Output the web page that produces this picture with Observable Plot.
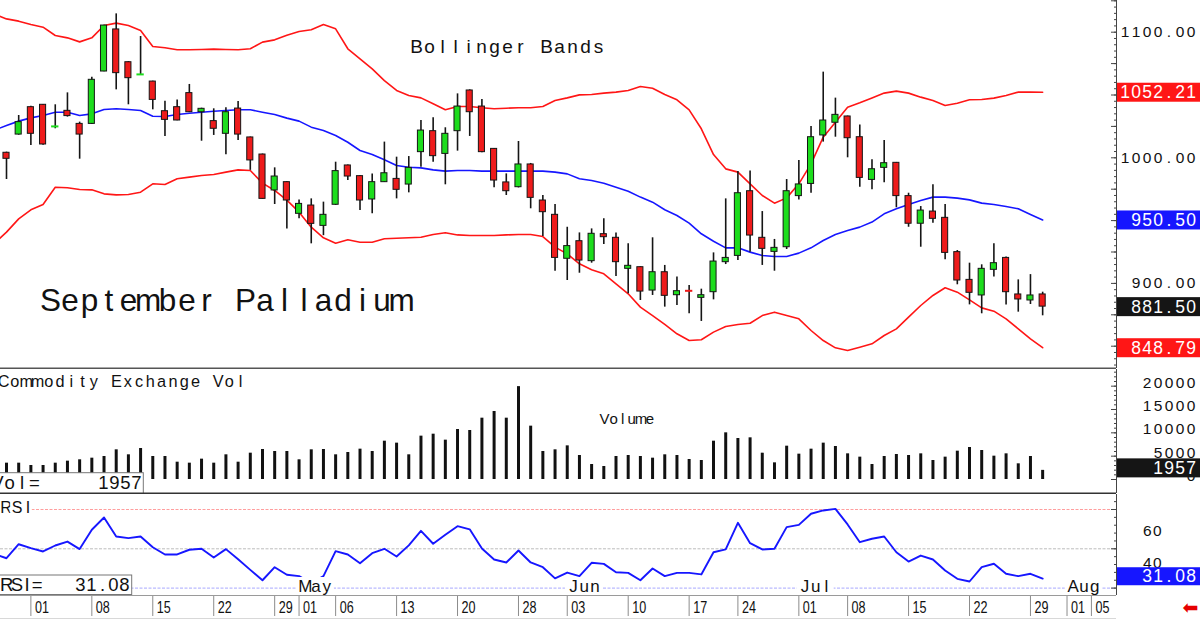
<!DOCTYPE html>
<html>
<head>
<meta charset="utf-8">
<script src="https://cdn.jsdelivr.net/npm/d3@7"></script>
<script src="https://cdn.jsdelivr.net/npm/@observablehq/plot@0.6"></script>
<style>
  html, body { margin: 0; padding: 0; background: #fff; }
  #chart { width: 1200px; height: 620px; overflow: hidden; background: #fff; }
  #chart svg { display: block; }
</style>
</head>
<body>
<div id="chart"></div>
<script>
// ---------------- data ----------------
// daily bars, Mar 27 .. Jul 30 (trading-day index 0..85)
const opens = [1004.0,1018.5,1040.3,1042.2,1024.7,1037.4,1027.0,1027.0,1068.7,1102.2,
  1076.1,1066.1,1060.7,1037.1,1040.3,1051.5,1036.3,1029.2,1019.1,1039.2,
  1016.2,1002.6,974.0,980.6,955.4,962.0,945.8,962.6,993.9,985.4,
  966.8,980.6,983.2,978.7,1004.5,1021.2,1003.1,1021.2,1053.6,1040.8,
  1007.1,980.4,976.6,994.7,966.0,954.6,919.6,933.6,917.7,939.2,
  936.3,911.6,912.9,894.3,908.9,890.6,894.5,888.5,893.0,916.9,
  921.9,973.4,936.3,925.1,928.8,969.5,979.2,1017.8,1027.9,1032.9,
  1016.4,982.4,992.0,996.0,969.5,947.5,957.2,952.2,924.9,902.8,
  890.4,910.8,920.3,891.2,886.4,891.2];
const highs = [1004.5,1033.7,1041.0,1042.5,1042.2,1051.7,1028.4,1064.2,1105.5,1114.6,
  1076.5,1096.6,1061.0,1045.1,1046.1,1058.4,1039.5,1039.0,1039.8,1044.8,
  1016.5,1003.0,992.0,981.0,966.5,967.3,964.7,996.5,994.2,985.7,
  987.2,1012.5,1000.5,1001.0,1029.7,1031.8,1023.9,1050.9,1054.1,1046.4,
  1007.5,987.2,1013.0,995.5,970.0,962.8,944.7,940.2,943.4,951.4,
  940.2,931.5,913.2,936.3,914.3,905.0,898.3,895.4,924.3,967.3,
  989.1,989.4,957.2,935.0,982.7,997.8,1024.9,1068.2,1047.5,1033.2,
  1026.2,998.4,1013.8,996.3,971.8,961.2,978.5,962.8,926.2,916.1,
  914.8,931.5,921.0,902.8,907.0,893.0];
const lows = [982.7,1018.0,1009.8,1010.0,1023.1,1032.4,998.9,1026.5,1068.5,1054.1,
  1042.2,1065.9,1038.2,1017.0,1029.5,1036.0,1013.2,1017.8,1002.4,1013.8,
  990.0,967.0,962.8,943.4,951.4,931.5,938.0,962.0,981.9,958.0,
  955.4,980.4,967.3,972.1,992.5,996.5,978.5,1005.3,1017.0,1004.0,
  976.1,970.0,976.0,959.4,937.3,909.7,902.3,908.1,916.1,930.9,
  905.5,891.7,886.4,890.4,881.1,882.4,875.8,869.7,886.9,915.0,
  918.2,924.9,914.3,909.7,927.0,966.5,971.8,1012.5,1016.4,1000.0,
  976.6,974.5,980.1,960.2,944.7,928.8,947.9,918.8,898.9,882.9,
  875.8,905.0,882.9,877.1,883.2,874.2];
const closes = [999.2,1028.4,1019.1,1010.6,1025.0,1033.2,1018.5,1062.1,1105.3,1067.4,
  1063.4,1066.4,1046.1,1030.2,1029.7,1036.3,1039.0,1023.1,1036.3,1018.5,
  997.9,967.3,985.1,966.0,963.3,947.4,954.6,989.4,985.1,966.0,
  980.6,987.7,974.5,992.0,1021.7,1001.3,1019.1,1040.8,1036.3,1004.5,
  981.9,973.4,994.7,968.1,956.7,920.3,929.7,918.2,939.5,936.8,
  916.9,914.0,893.5,908.9,890.1,893.8,894.1,890.6,917.4,920.3,
  971.8,938.1,927.5,928.3,973.4,978.8,1016.4,1029.7,1034.2,1015.6,
  984.0,990.9,995.7,969.5,947.5,958.0,951.4,924.3,902.3,892.5,
  911.6,916.1,893.0,887.2,890.4,881.5];
// Bollinger bands, starting one bar before the first candle (index -1 .. 85)
const upperBand = [1114.4,
  1110.6,1108.8,1106.1,1104.0,1097.4,1095.5,1092.3,1095.5,1105.3,1107.2,
  1105.3,1101.4,1088.6,1087.6,1086.0,1086.0,1086.2,1086.5,1086.2,1086.0,
  1086.8,1092.1,1093.9,1097.6,1100.6,1101.9,1106.1,1102.7,1086.8,1078.8,
  1070.8,1061.5,1053.6,1049.6,1047.7,1043.0,1038.2,1040.8,1040.8,1039.8,
  1039.0,1039.5,1039.8,1039.8,1040.8,1045.6,1047.7,1050.1,1050.4,1051.5,
  1052.3,1053.6,1056.8,1055.4,1050.4,1046.2,1038.2,1023.1,1002.6,991.2,
  988.6,979.3,970.0,963.9,968.1,979.3,995.2,1016.4,1028.4,1040.3,
  1043.8,1047.7,1051.5,1053.1,1051.5,1048.3,1045.6,1041.6,1043.5,1046.2,
  1046.4,1047.5,1049.6,1052.3,1052.3,1052.21];
const middleBand = [1022.0,
  1025.7,1029.2,1031.8,1033.7,1036.3,1036.3,1033.7,1035.0,1038.5,1039.0,
  1038.5,1037.7,1033.1,1032.9,1034.5,1035.5,1036.3,1037.1,1037.7,1038.2,
  1038.2,1036.3,1034.5,1031.6,1029.2,1024.4,1021.7,1017.8,1012.4,1005.8,
  1002.6,998.4,993.9,992.5,992.0,990.4,989.4,989.9,989.9,989.4,
  989.4,989.4,989.4,989.4,989.4,988.6,987.2,983.3,981.9,979.8,
  976.6,973.4,968.7,964.7,958.6,954.1,948.0,939.5,933.6,928.3,
  928.3,924.9,922.2,921.4,921.4,924.1,928.3,934.2,938.9,942.1,
  944.8,948.8,955.4,959.4,962.8,966.0,968.7,968.7,967.9,966.5,
  963.9,962.8,961.2,959.4,954.9,950.50];
const lowerBand = [931.8,
  940.8,951.4,958.6,962.8,976.6,976.1,974.8,974.5,971.3,970.5,
  970.8,972.6,979.3,978.8,983.3,984.6,985.9,986.7,988.6,990.4,
  989.9,979.8,974.0,966.3,956.7,944.8,936.3,932.0,934.7,932.8,
  932.8,935.5,935.9,936.3,936.8,938.9,940.3,938.6,938.1,938.1,
  938.1,938.6,938.9,938.9,937.3,928.9,923.5,915.6,910.8,907.6,
  899.7,891.7,881.1,874.4,867.3,859.9,854.5,855.1,861.2,865.7,
  867.3,868.3,874.4,877.1,874.4,871.8,862.5,854.5,848.7,846.6,
  849.2,851.9,858.5,863.8,873.1,882.4,890.4,896.5,893.0,886.9,
  880.5,877.9,871.8,863.8,855.9,848.79];
const volumes = [3500,3500,3000,3000,3500,3930,4220,4570,4930,6360,
  5290,6640,4930,4930,3710,3500,4360,3500,5290,3710,
  5640,6430,6000,6000,4220,6360,6430,5290,5790,6500,
  6000,8210,7790,5290,9290,9710,8430,10710,10500,13140,
  14570,13140,19900,11430,6000,6360,7210,5140,3210,2790,
  4930,5140,4930,4570,5290,5140,4290,4070,8210,10000,
  8790,8930,5640,3570,7140,5430,6500,7790,7070,5500,
  4790,3210,4930,5360,5140,5500,4070,4790,6070,6860,
  6210,5000,5500,3360,4930,1957];
// RSI, index -1 .. 85
const rsiValues = [46.6,
  44.0,52.9,50.4,48.3,52.1,54.6,49.8,62.1,69.9,57.8,
  56.8,57.8,51.0,46.4,46.4,49.4,50.0,44.5,49.8,43.3,
  36.6,30.0,38.3,33.5,32.6,28.0,32.6,48.5,46.4,40.8,
  47.2,50.0,45.1,52.2,61.4,53.2,58.9,64.4,62.4,50.2,
  43.2,41.3,48.9,41.3,38.3,31.2,34.9,32.6,41.1,40.4,
  35.1,34.7,30.0,37.5,32.6,34.7,34.7,33.7,47.8,49.6,
  66.5,53.6,49.6,50.0,63.8,65.2,72.3,74.4,75.4,65.5,
  54.2,56.4,57.8,47.8,41.9,45.7,43.2,36.2,30.9,29.2,
  38.3,40.5,34.1,32.6,34.1,31.08];
const dateTickBars = [2,7,12,17,22,24,27,32,37,42,46,51,56,60,65,69,74,79,84,87,89];
const dateTickLabels = ["01","08","15","22","29","01","06","13","20","28","03","10","17","24","01","08","15","22","29","01","05"];
const monthBars = [24,46,65,87];
const monthLabels = ["May","Jun","Jul","Aug"];
const priceTicks = [900,1000,1100];
const volumeTicks = [0,5000,10000,15000,20000];
const rsiTicks = [40,60];
const rsiLevels = [75,50,25];
const lastUpper = 1052.21, lastMiddle = 950.50, lastClose = 881.50, lastLower = 848.79;
const lastVolume = 1957, lastRsi = 31.08;

// ---------------- layout ----------------
const FONT = "'Liberation Sans', Arial, Helvetica, sans-serif";
const STEP = 12.19, X0 = 6, PLOT_RIGHT = 1116;
const px2i = px => (px - X0) / STEP;
const xDomain = [px2i(0), px2i(PLOT_RIGHT)];
const XMAX = xDomain[1];

const PK = 1.256, P_REF = 1100, P_REF_Y = 31.7, P_H = 368;
const pDomain = [P_REF - (P_H - P_REF_Y) / PK, P_REF + P_REF_Y / PK];
const VK = 0.004667, V0_Y = 110, V_H = 124;
const vAt = y => (V0_Y - y) / VK;
const vDomain = [vAt(V_H), vAt(0)];
const RK = 1.572, R50_Y = 54.3, R_H = 101;
const rAt = y => 50 - (y - R50_Y) / RK;
const rDomain = [rAt(R_H), rAt(0)];

const UP = "#1ddd1d", DOWN = "#ee1b1b", RED = "#ff1616", BLUE = "#1616ff";

// fixed-pitch text helper
const pitchSpecs = {};
let pid = 0;
function ptext(data, opts, pitch, align = "start") {
  const id = "pt" + (pid++);
  pitchSpecs[id] = {pitch, align};
  return Plot.text(data, {...opts, ariaDescription: id});
}
function applyPitch(svg) {
  for (const [id, {pitch, align}] of Object.entries(pitchSpecs)) {
    svg.querySelectorAll(`g[aria-description="${id}"] text`).forEach(t => {
      const s = t.textContent, n = s.length, xs = [];
      for (let k = 0; k < n; ++k) {
        xs.push(align === "start" ? pitch * (k + 0.5)
          : align === "end" ? -pitch * (n - 1 - k) - pitch / 2
          : pitch * (k - (n - 1) / 2));
      }
      t.setAttribute("x", xs.map(v => v.toFixed(2)).join(" "));
      t.setAttribute("text-anchor", "middle");
    });
  }
}

const bars = opens.map((o, i) => ({i, o, h: highs[i], l: lows[i], c: closes[i]}));
const bodies = bars.filter(d => Math.abs(d.c - d.o) >= 1);
const dojis = bars.filter(d => Math.abs(d.c - d.o) < 1);
const bands = upperBand.map((u, k) => ({i: k - 1, u, m: middleBand[k], lo: lowerBand[k]}));
const vol = volumes.map((v, i) => ({i, v}));
const rsi = rsiValues.map((r, k) => ({i: k - 1, r}));
const dateTicks = dateTickBars.map((i, k) => ({i, label: dateTickLabels[k]}));
const months = monthBars.map((i, k) => ({i, label: monthLabels[k]}));
const priceBoxes = [
  {v: lastUpper, color: RED}, {v: lastMiddle, color: BLUE},
  {v: lastClose, color: "#151515"}, {v: lastLower, color: RED}];

const common = {width: 1200, marginLeft: 0, marginRight: 1200 - PLOT_RIGHT,
  style: {fontFamily: FONT, color: "#111", background: "#fff"}};

// ---------------- price panel ----------------
const pricePlot = Plot.plot({
  ...common, height: 369, marginTop: 0, marginBottom: 1,
  x: {domain: xDomain, axis: null},
  y: {domain: pDomain, axis: null},
  marks: [
    Plot.line(bands, {x: "i", y: "u", stroke: RED, strokeWidth: 1.6, clip: true}),
    Plot.line(bands, {x: "i", y: "lo", stroke: RED, strokeWidth: 1.6, clip: true}),
    Plot.line(bands, {x: "i", y: "m", stroke: BLUE, strokeWidth: 1.6, clip: true}),
    Plot.ruleX(bars, {x: "i", y1: "l", y2: "h", stroke: "#151515", strokeWidth: 1.6}),
    Plot.rect(bodies, {x1: d => d.i - 0.25, x2: d => d.i + 0.25,
      y1: d => Math.min(d.o, d.c), y2: d => Math.max(d.o, d.c),
      fill: d => d.c >= d.o ? UP : DOWN, stroke: "#151515", strokeWidth: 1}),
    Plot.ruleY(dojis, {y: "c", x1: d => d.i - 0.3, x2: d => d.i + 0.3,
      stroke: d => d.c >= d.o ? UP : DOWN, strokeWidth: 2}),
    ptext(["Bollinger Bands"], {text: d => d, frameAnchor: "top-left", dx: 409.5, dy: 52.3,
      lineAnchor: "bottom", fontSize: 19, fill: "#111"}, 13),
    ptext(["September Palladium"], {text: d => d, frameAnchor: "top-left", dx: 40.25, dy: 310,
      lineAnchor: "bottom", fontSize: 31.5, fill: "#111"}, 19.5),
    Plot.ruleY([pDomain[0]], {stroke: "#555", strokeWidth: 2}),
    Plot.ruleX([XMAX], {stroke: "#444"}),
    Plot.ruleY(d3.range(835, 1126, 5), {y: d => d, x1: () => XMAX - 2 / STEP, x2: () => XMAX, stroke: "#444"}),
    Plot.ruleY(d3.range(850, 1126, 25), {y: d => d, x1: () => XMAX - 5 / STEP, x2: () => XMAX, stroke: "#444"}),
    ptext(priceTicks, {y: d => d, text: d => d.toFixed(2), frameAnchor: "right", dx: 80,
      textAnchor: "end", lineAnchor: "middle", fontSize: 15.5, fill: "#111"}, 11, "end"),
    Plot.rect(priceBoxes, {x1: () => px2i(PLOT_RIGHT + 1), x2: () => px2i(1203),
      y1: d => d.v - 0.4 - 9.5 / PK, y2: d => d.v - 0.4 + 9.5 / PK, fill: d => d.color}),
    ptext(priceBoxes, {y: d => d.v - 0.4, text: d => d.v.toFixed(2), frameAnchor: "right", dx: 80,
      textAnchor: "end", lineAnchor: "middle", fontSize: 17.5, fill: "white"}, 11, "end")
  ]
});

// ---------------- volume panel ----------------
const volumePlot = Plot.plot({
  ...common, height: 125, marginTop: 0, marginBottom: 1,
  x: {domain: xDomain, axis: null},
  y: {domain: vDomain, axis: null},
  marks: [
    Plot.ruleX(vol, {x: "i", y1: 0, y2: "v", stroke: "#111", strokeWidth: 3}),
    ptext(["Commodity Exchange Vol"], {text: d => d, frameAnchor: "top-left", dx: -2.55, dy: 17.7,
      lineAnchor: "bottom", fontSize: 16.3, fill: "#111"}, 11.29),
    ptext(["Volume"], {text: d => d, frameAnchor: "top-left", dx: 599.45, dy: 54.3,
      lineAnchor: "bottom", fontSize: 15, fill: "#111"}, 9.1),
    Plot.rect([0], {x1: () => px2i(-2), x2: () => px2i(143.3), y1: () => vAt(124.5), y2: () => vAt(103.7),
      fill: "white", stroke: "#777"}),
    ptext(["Vol="], {text: d => d, frameAnchor: "top-left", dx: -9.25, dy: 119.3,
      lineAnchor: "bottom", fontSize: 18.5, fill: "#111"}, 12.3),
    ptext([String(lastVolume)], {text: d => d, frameAnchor: "top-left", dx: 141.5, dy: 119.3,
      textAnchor: "end", lineAnchor: "bottom", fontSize: 18.5, fill: "#111"}, 11, "end"),
    Plot.ruleY([vDomain[0]], {stroke: "#333", strokeWidth: 2}),
    Plot.ruleX([XMAX], {stroke: "#444"}),
    Plot.ruleY(d3.range(0, 23001, 1000), {y: d => d, x1: () => XMAX - 2 / STEP, x2: () => XMAX, stroke: "#444"}),
    Plot.ruleY(volumeTicks, {y: d => d, x1: () => XMAX - 5 / STEP, x2: () => XMAX, stroke: "#444"}),
    ptext(volumeTicks, {y: d => d + 3.5 / VK, text: d => String(d), frameAnchor: "right", dx: 80,
      textAnchor: "end", lineAnchor: "middle", fontSize: 15.5, fill: "#111"}, 11, "end"),
    Plot.rect([lastVolume], {x1: () => px2i(PLOT_RIGHT + 1), x2: () => px2i(1203),
      y1: d => d + (2 - 9.5) / VK, y2: d => d + (2 + 9.5) / VK, fill: "#151515"}),
    ptext([lastVolume], {y: d => d + 2 / VK, text: d => String(d), frameAnchor: "right", dx: 80,
      textAnchor: "end", lineAnchor: "middle", fontSize: 17.5, fill: "white"}, 11, "end")
  ]
});

// ---------------- RSI panel + date axis ----------------
const rsiPlot = Plot.plot({
  ...common, height: 126, marginTop: 0, marginBottom: 25,
  x: {domain: xDomain, axis: null},
  y: {domain: rDomain, axis: null},
  marks: [
    Plot.ruleY([rsiLevels[0]], {stroke: "#ff9e9e", strokeDasharray: "3,1.5"}),
    Plot.ruleY([rsiLevels[1]], {stroke: "#bdbdbd", strokeDasharray: "3,1.5"}),
    Plot.ruleY([rsiLevels[2]], {stroke: "#a8a8ff", strokeDasharray: "3,1.5"}),
    Plot.line(rsi, {x: "i", y: "r", stroke: BLUE, strokeWidth: 1.9, clip: true}),
    Plot.rect(months, {x1: d => d.i - 0.15, x2: d => d.i + 2.9, y1: () => rAt(R_H), y2: () => rAt(83), fill: "white"}),
    ptext(months, {x: "i", text: "label", frameAnchor: "bottom", dx: 0.9, dy: -3.3,
      textAnchor: "start", lineAnchor: "bottom", fontSize: 17, fill: "#111"}, 10.7),
    ptext(["RSI"], {text: d => d, frameAnchor: "top-left", dx: 0, dy: 18, lineAnchor: "bottom",
      fontSize: 16, fill: "#111", stroke: "white", strokeWidth: 6}, 11),
    Plot.rect([0], {x1: () => px2i(-2), x2: () => px2i(131.7), y1: () => rAt(100.5), y2: () => rAt(81),
      fill: "white", stroke: "#777"}),
    ptext(["RSI="], {text: d => d, frameAnchor: "top-left", dx: 1, dy: 96.7, lineAnchor: "bottom",
      fontSize: 18.5, fill: "#111"}, 10.2),
    ptext([lastRsi.toFixed(2)], {text: d => d, frameAnchor: "top-left", dx: 129.5, dy: 96.7,
      textAnchor: "end", lineAnchor: "bottom", fontSize: 18.5, fill: "#111"}, 11, "end"),
    // right axis
    Plot.ruleX([XMAX], {stroke: "#444"}),
    Plot.ruleY(d3.range(25, 85, 5), {y: d => d, x1: () => XMAX - 2 / STEP, x2: () => XMAX, stroke: "#444"}),
    Plot.ruleY(rsiLevels, {y: d => d, x1: () => XMAX - 5 / STEP, x2: () => XMAX, stroke: "#444"}),
    ptext(rsiTicks, {y: d => d + 1.8 / RK, text: d => String(d), frameAnchor: "right", dx: 25.7,
      textAnchor: "start", lineAnchor: "middle", fontSize: 15.5, fill: "#111"}, 10),
    Plot.rect([lastRsi], {x1: () => px2i(PLOT_RIGHT + 1), x2: () => px2i(1203),
      y1: d => d + (1.8 - 9) / RK, y2: d => d + (1.8 + 9) / RK, fill: BLUE}),
    ptext([lastRsi], {y: d => d + 1.8 / RK, text: d => d.toFixed(2), frameAnchor: "right", dx: 80,
      textAnchor: "end", lineAnchor: "middle", fontSize: 17.5, fill: "white"}, 11, "end"),
    // date axis
    Plot.ruleY([rDomain[0]], {stroke: "#9a9a9a"}),
    Plot.ruleY([rAt(124)], {x1: () => xDomain[0], x2: () => XMAX, stroke: "#d8d8d8"}),
    Plot.ruleX(dateTicks, {x: "i", y1: () => rAt(102), y2: () => rAt(122), stroke: "#8c8c8c"}),
    Plot.text(dateTicks, {x: "i", text: "label", frameAnchor: "bottom", dx: 4, dy: 12,
      textAnchor: "start", lineAnchor: "middle", fontSize: 17, fill: "#111", ariaDescription: "datelabels"}),
    Plot.text(["\u2B05"], {text: d => d, frameAnchor: "bottom-right", dx: 74, dy: 12,
      textAnchor: "middle", lineAnchor: "middle", fontSize: 19, fill: "#e60000", fontFamily: "DejaVu Sans"})
  ]
});

const chart = document.getElementById("chart");
for (const svg of [pricePlot, volumePlot, rsiPlot]) {
  applyPitch(svg);
  chart.appendChild(svg);
}
rsiPlot.querySelectorAll('g[aria-description="datelabels"] text').forEach(t => {
  t.setAttribute("textLength", "14");
  t.setAttribute("lengthAdjust", "spacingAndGlyphs");
});
</script>
</body>
</html>
